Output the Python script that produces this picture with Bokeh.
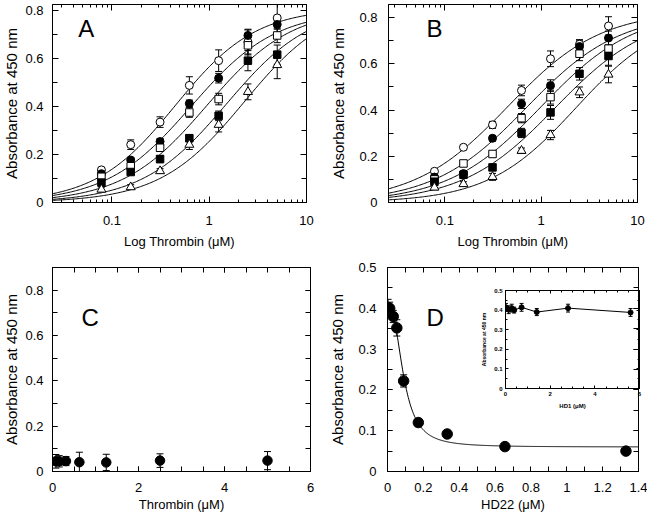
import numpy as np
from bokeh.plotting import figure
from bokeh.models import (ColumnDataSource, Whisker, TeeHead, LinearAxis, LogAxis, Label,
                          SingleIntervalTicker, FixedTicker, CustomJSTickFormatter, Range1d,
                          CustomLabelingPolicy)
from bokeh.layouts import row, column
from bokeh.embed import file_html
from bokeh.resources import INLINE

FONT = "Liberation Sans"

# ---------------- data ----------------
thrombin_uM = [0.078, 0.156, 0.3125, 0.625, 1.25, 2.5, 5.0]

# Panel A (absorbance at 450 nm)
A_open_circle = [0.136, 0.241, 0.335, 0.488, 0.591, 0.669, 0.769]
A_open_circle_err = [0.01, 0.02, 0.022, 0.036, 0.045, 0.05, 0.065]
A_filled_circle = [0.12, 0.177, 0.254, 0.412, 0.518, 0.696, 0.742]
A_filled_circle_err = [0.01, 0.01, 0.012, 0.015, 0.02, 0.026, 0.02]
A_open_square = [0.107, 0.151, 0.228, 0.375, 0.431, 0.655, 0.696]
A_open_square_err = [0.01, 0.01, 0.015, 0.02, 0.024, 0.04, 0.03]
A_filled_square = [0.083, 0.127, 0.181, 0.268, 0.361, 0.591, 0.616]
A_filled_square_err = [0.01, 0.01, 0.015, 0.015, 0.02, 0.042, 0.04]
A_open_triangle = [0.054, 0.064, 0.131, 0.241, 0.324, 0.461, 0.573]
A_open_triangle_err = [0.01, 0.01, 0.01, 0.02, 0.03, 0.033, 0.057]
# fitted curves (Bmax, EC50, Hill n)
A_fit_open_circle = (0.81, 0.45, 1.05)
A_fit_filled_circle = (0.80, 0.65, 1.0)
A_fit_open_square = (0.81, 0.95, 1.0)
A_fit_filled_square = (0.82, 1.5, 1.0)
A_fit_open_triangle = (0.84, 2.3, 1.0)

# Panel B
B_open_circle = [0.135, 0.239, 0.336, 0.485, 0.622, 0.685, 0.764]
B_open_circle_err = [0.01, 0.01, 0.015, 0.023, 0.034, 0.02, 0.04]
B_filled_circle = [0.11, 0.125, 0.278, 0.427, 0.506, 0.675, 0.712]
B_filled_circle_err = [0.01, 0.01, 0.012, 0.02, 0.025, 0.025, 0.03]
B_open_square = [0.10, 0.169, 0.21, 0.365, 0.456, 0.644, 0.666]
B_open_square_err = [0.01, 0.01, 0.012, 0.02, 0.03, 0.03, 0.04]
B_filled_square = [0.09, 0.12, 0.152, 0.301, 0.39, 0.557, 0.634]
B_filled_square_err = [0.01, 0.01, 0.012, 0.02, 0.03, 0.027, 0.04]
B_open_triangle = [0.065, 0.08, 0.111, 0.224, 0.292, 0.477, 0.554]
B_open_triangle_err = [0.01, 0.01, 0.015, 0.012, 0.02, 0.023, 0.036]
B_fit_open_circle = (0.83, 0.45, 0.9)
B_fit_filled_circle = (0.82, 0.7, 0.9)
B_fit_open_square = (0.83, 1.0, 0.9)
B_fit_filled_square = (0.82, 1.4, 0.9)
B_fit_open_triangle = (0.82, 2.3, 0.95)

# Panel C
C_thrombin_uM = [0.078, 0.156, 0.3125, 0.625, 1.25, 2.5, 5.0]
C_absorbance = [0.045, 0.045, 0.046, 0.041, 0.040, 0.048, 0.048]
C_err = [0.03, 0.025, 0.02, 0.044, 0.036, 0.03, 0.04]

# Panel D
D_hd22_uM = [0.003, 0.012, 0.032, 0.052, 0.09, 0.172, 0.333, 0.655, 1.33]
D_absorbance = [0.402, 0.40, 0.38, 0.352, 0.222, 0.12, 0.092, 0.061, 0.05]
D_err = [0.02, 0.015, 0.015, 0.02, 0.015, 0.01, 0.008, 0.008, 0.006]
D_fit = (0.41, 0.06, 0.09, 2.5)   # top, bottom, IC50, n
D_xticks = [0, 0.2, 0.4, 0.6, 0.8, 1.0, 1.2, 1.4]

# Inset of D
I_hd1_uM = [0.02, 0.14, 0.28, 0.39, 0.72, 1.4, 2.8, 5.6]
I_absorbance = [0.414, 0.402, 0.41, 0.40, 0.414, 0.39, 0.41, 0.388]
I_err = [0.02, 0.02, 0.02, 0.015, 0.02, 0.018, 0.02, 0.02]

YLABEL = "Absorbance at 450 nm"


def hill(x, bmax, ec50, n):
    return bmax * x ** n / (ec50 ** n + x ** n)


lin_fmt = "return String(Math.round(tick*1000)/1000);"
HIDE = ("try { for (const i of Array.from(indices.ones())) { indices.unset(i) } } catch (e) {} "
        "return indices;")


def style(p, xlabel, ylabel, xticker, yticker, log=False, xl_std=12, xa_std=3,
          yl_std=8, ya_std=2, tick_font="13px", xlab_font="13px", ylab_font="15px",
          tick_len=5, minor_len=5, xminor_len=None):
    if xminor_len is None:
        xminor_len = minor_len
    for ax in p.xaxis:
        ax.ticker = xticker
        ax.formatter = CustomJSTickFormatter(code=lin_fmt)
        ax.axis_label = xlabel
        ax.major_label_standoff = xl_std
        ax.axis_label_standoff = xa_std
        ax.minor_tick_in = xminor_len
        ax.minor_tick_out = 0
        ax.axis_label_text_font_size = xlab_font
    for ax in p.yaxis:
        ax.ticker = yticker
        ax.formatter = CustomJSTickFormatter(code=lin_fmt)
        ax.axis_label = ylabel
        ax.major_label_standoff = yl_std
        ax.axis_label_standoff = ya_std
        ax.minor_tick_in = minor_len
        ax.minor_tick_out = 0
        ax.axis_label_text_font_size = ylab_font
    for ax in p.xaxis + p.yaxis:
        ax.major_tick_in = tick_len
        ax.major_tick_out = 0
        ax.axis_line_color = "black"
        ax.major_tick_line_color = "black"
        ax.minor_tick_line_color = "black"
        ax.major_label_text_font = FONT
        ax.major_label_text_font_size = tick_font
        ax.major_label_text_color = "black"
        ax.axis_label_text_font = FONT
        ax.axis_label_text_font_style = "normal"
        ax.axis_label_text_color = "black"
    # mirrored axes (ticks only, labels suppressed)
    XA = LogAxis if log else LinearAxis
    top = XA(ticker=xticker, major_label_text_font_size="1px", major_label_standoff=0,
             major_label_policy=CustomLabelingPolicy(code=HIDE),
             formatter=CustomJSTickFormatter(code="return '';"),
             major_tick_in=tick_len, major_tick_out=0, minor_tick_in=xminor_len, minor_tick_out=0,
             axis_line_color="black")
    right = LinearAxis(ticker=yticker, major_label_text_font_size="1px", major_label_standoff=0,
                       major_label_policy=CustomLabelingPolicy(code=HIDE),
                       formatter=CustomJSTickFormatter(code="return '';"),
                       major_tick_in=tick_len, major_tick_out=0, minor_tick_in=minor_len,
                       minor_tick_out=0, axis_line_color="black")
    p.add_layout(top, "above")
    p.add_layout(right, "right")
    p.xgrid.visible = False
    p.ygrid.visible = False
    p.outline_line_color = "black"
    p.outline_line_width = 1


def errbars(p, xs, ys, errs, head=7):
    src = ColumnDataSource(dict(x=xs, lo=[y - e for y, e in zip(ys, errs)],
                                hi=[y + e for y, e in zip(ys, errs)]))
    w = Whisker(source=src, base="x", lower="lo", upper="hi", line_color="black", line_width=1,
                upper_head=TeeHead(size=head, line_color="black", line_width=1),
                lower_head=TeeHead(size=head, line_color="black", line_width=1))
    p.add_layout(w)


MARKERS = [
    ("circle", "white", 8),
    ("circle", "black", 8),
    ("square", "white", 7.5),
    ("square", "black", 7.5),
    ("triangle", "white", 9),
]


def letter(p, x, y, t):
    p.add_layout(Label(x=x, y=y, text=t, text_font=FONT, text_font_size="24px",
                       text_color="black", text_baseline="alphabetic"))


def titration_panel(series, errs, fits, xr, yr, frame_w, mleft, mright, ylab_std, yax_std, let, lx, ly):
    p = figure(x_axis_type="log", x_range=Range1d(*xr), y_range=Range1d(*yr),
               frame_width=frame_w, frame_height=198, min_border_left=mleft,
               min_border_right=mright, min_border_top=1, min_border_bottom=55,
               output_backend="svg", toolbar_location=None, background_fill_color="white")
    xg = np.logspace(np.log10(xr[0]), np.log10(xr[1]), 200)
    for fit in fits:
        p.line(xg, hill(xg, *fit), line_color="black", line_width=1)
    for ys, es in zip(series, errs):
        errbars(p, thrombin_uM, ys, es)
    for ys, (mk, fill, sz) in zip(series, MARKERS):
        p.scatter(thrombin_uM, ys, marker=mk, size=sz, fill_color=fill, line_color="black",
                  line_width=1)
    decades = [0.01, 0.1, 1.0]
    minors = [m * d for d in decades for m in range(2, 10)]
    xt = FixedTicker(ticks=[0.1, 1, 10], minor_ticks=minors)
    style(p, "Log Thrombin (\u03bcM)", YLABEL, xt, SingleIntervalTicker(interval=0.2, num_minor_ticks=2),
          log=True, xl_std=13, xa_std=6, yl_std=ylab_std, ya_std=yax_std, xminor_len=3, tick_len=6)
    p.xaxis[0].formatter = CustomJSTickFormatter(code="return tick.toString();")
    letter(p, lx, ly, let)
    return p


pA = titration_panel(
    [A_open_circle, A_filled_circle, A_open_square, A_filled_square, A_open_triangle],
    [A_open_circle_err, A_filled_circle_err, A_open_square_err, A_filled_square_err, A_open_triangle_err],
    [A_fit_open_circle, A_fit_filled_circle, A_fit_open_square, A_fit_filled_square, A_fit_open_triangle],
    (0.0245, 10), (0, 0.825), 254, 46, 20, 9, 2, "A", 0.045, 0.725)

pB = titration_panel(
    [B_open_circle, B_filled_circle, B_open_square, B_filled_square, B_open_triangle],
    [B_open_circle_err, B_filled_circle_err, B_open_square_err, B_filled_square_err, B_open_triangle_err],
    [B_fit_open_circle, B_fit_filled_circle, B_fit_open_square, B_fit_filled_square, B_fit_open_triangle],
    (0.026, 10), (0, 0.857), 249, 62, 9, 11, 9, "B", 0.0645, 0.753)

# Panel C
pC = figure(x_range=Range1d(0, 6), y_range=Range1d(0, 0.9), frame_width=258, frame_height=204,
            min_border_left=46, min_border_right=16, min_border_top=10, min_border_bottom=45,
            output_backend="svg", toolbar_location=None)
errbars(pC, C_thrombin_uM, C_absorbance, C_err)
pC.scatter(C_thrombin_uM, C_absorbance, marker="circle", size=9.5, fill_color="black", line_color="black")
style(pC, "Thrombin (\u03bcM)", YLABEL, SingleIntervalTicker(interval=2, num_minor_ticks=4),
      SingleIntervalTicker(interval=0.2, num_minor_ticks=2), xl_std=11, xa_std=2, yl_std=9, ya_std=2)
letter(pC, 0.674, 0.68, "C")

# Panel D
pD = figure(x_range=Range1d(0, 1.4), y_range=Range1d(0, 0.5), frame_width=251, frame_height=204,
            min_border_left=60, min_border_right=9, min_border_top=10, min_border_bottom=45,
            output_backend="svg", toolbar_location=None)
xd = np.linspace(0, 1.4, 400)
top_, bot_, ic50, nh = D_fit
pD.line(xd, bot_ + (top_ - bot_) / (1 + (xd / ic50) ** nh), line_color="black", line_width=1)
errbars(pD, D_hd22_uM, D_absorbance, D_err)
pD.scatter(D_hd22_uM, D_absorbance, marker="circle", size=10.5, fill_color="black", line_color="black")
d_minor = [0.1, 0.3, 0.5, 0.7, 0.9, 1.1, 1.3]
style(pD, "HD22 (\u03bcM)", YLABEL, FixedTicker(ticks=D_xticks, minor_ticks=d_minor),
      SingleIntervalTicker(interval=0.1, num_minor_ticks=2), xl_std=11, xa_std=2, yl_std=11, ya_std=9)
letter(pD, 0.2175, 0.378, "D")

# Inset
pI = figure(x_range=Range1d(0, 6), y_range=Range1d(0, 0.5), frame_width=134, frame_height=98,
            min_border_left=24, min_border_right=3, min_border_top=3, min_border_bottom=28,
            output_backend="svg", toolbar_location=None, background_fill_alpha=0,
            border_fill_alpha=0,
            styles={"position": "absolute", "left": "478px", "top": "287px"})
pI.line(I_hd1_uM, I_absorbance, line_color="black", line_width=1)
errbars(pI, I_hd1_uM, I_absorbance, I_err, head=4)
pI.scatter(I_hd1_uM, I_absorbance, marker="circle", size=5, fill_color="black", line_color="black")
style(pI, "HD1 (\u03bcM)", YLABEL, SingleIntervalTicker(interval=2, num_minor_ticks=4),
      SingleIntervalTicker(interval=0.1, num_minor_ticks=2), xl_std=3, xa_std=4, yl_std=3, ya_std=4,
      tick_font="6px", xlab_font="6px", ylab_font="5px", tick_len=3, minor_len=2)
for ax in pI.xaxis + pI.yaxis:
    ax.major_label_text_font_style = "bold"
    ax.axis_label_text_font_style = "bold"

layout = column(row(pA, pB), row(pC, pD))
open("out.html", "w").write(file_html([layout, pI], INLINE))
